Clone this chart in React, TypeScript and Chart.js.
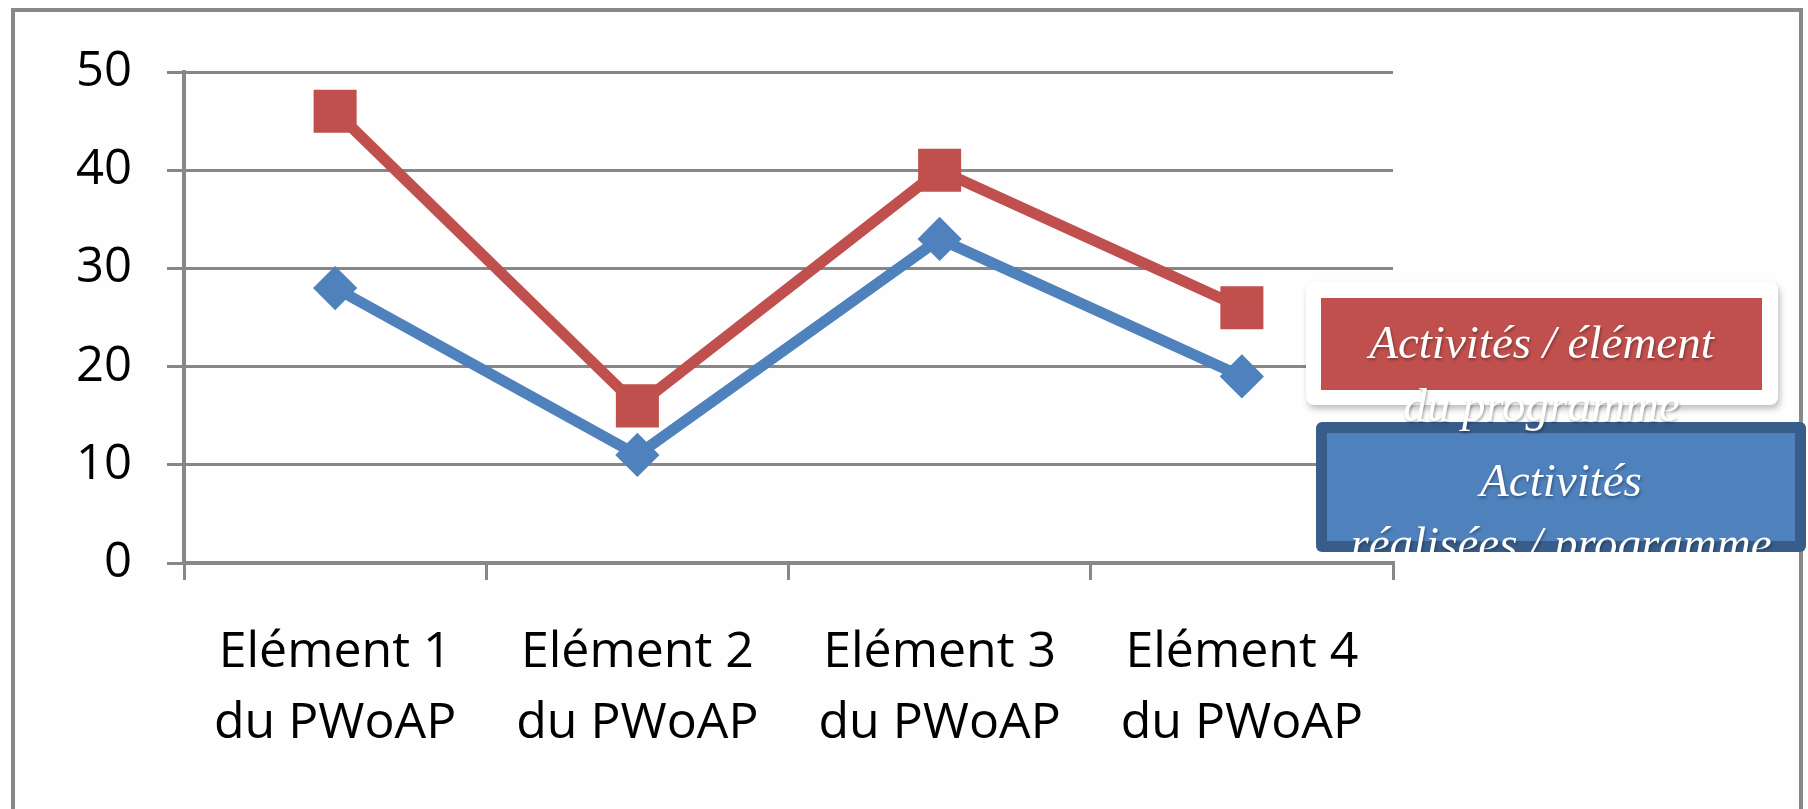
import React, { useEffect, useRef } from "react";
import { Chart, registerables } from "chart.js";

Chart.register(...registerables);

// ---- Data ----
const categories: string[][] = [
  ["Elément 1", "du PWoAP"],
  ["Elément 2", "du PWoAP"],
  ["Elément 3", "du PWoAP"],
  ["Elément 4", "du PWoAP"],
];
const activitesElement: number[] = [46, 16, 40, 26];
const activitesRealisees: number[] = [28, 11, 33, 19];
const yTickValues: number[] = [0, 10, 20, 30, 40, 50];
const legendRed: string[] = ["Activités / élément", "du programme"];
const legendBlue: string[] = ["Activités", "réalisées / programme"];

const RED = "#C0504D";
const BLUE = "#4F81BD";
const BLUE_DARK = "#385D8A";
const GRID = "#878787";

const W = 1808;
const H = 809;

export default function App() {
  const canvasRef = useRef<HTMLCanvasElement | null>(null);

  useEffect(() => {
    const canvas = canvasRef.current;
    if (!canvas) return;
    const chart = new Chart(canvas, {
      type: "line",
      data: {
        labels: categories as any,
        datasets: [
          {
            label: legendRed.join(" "),
            data: activitesElement,
            borderColor: RED,
            backgroundColor: RED,
            borderWidth: 11,
            tension: 0,
            pointStyle: "rect",
            pointRadius: 29,
            pointHoverRadius: 29,
            pointBorderWidth: 2,
            pointBackgroundColor: RED,
            pointBorderColor: RED,
            borderJoinStyle: "round",
            clip: false as any,
          },
          {
            label: legendBlue.join(" "),
            data: activitesRealisees,
            borderColor: BLUE,
            backgroundColor: BLUE,
            borderWidth: 11,
            tension: 0,
            pointStyle: "rectRot",
            pointRadius: 20,
            pointHoverRadius: 20,
            pointBorderWidth: 3,
            pointBackgroundColor: BLUE,
            pointBorderColor: BLUE,
            borderJoinStyle: "round",
            clip: false as any,
          },
        ],
      },
      options: {
        responsive: false,
        animation: false,
        events: [],
        layout: { padding: { left: 0, top: 72, right: W - 1393, bottom: 0 } },
        plugins: {
          legend: { display: false },
          tooltip: { enabled: false },
          title: { display: false },
        },
        scales: {
          x: {
            type: "category",
            offset: true,
            grid: {
              display: true,
              drawOnChartArea: false,
              drawTicks: true,
              tickLength: 17,
              color: GRID,
              lineWidth: 3,
              offset: true,
            },
            border: { display: true, color: GRID, width: 4 },
            ticks: {
              color: "#000",
              font: { family: "Open Sans", size: 50, lineHeight: 1.42 },
              padding: 37,
              maxRotation: 0,
              minRotation: 0,
              autoSkip: false,
            },
            afterFit: (s: any) => {
              s.height = H - 563;
            },
          },
          y: {
            min: 0,
            max: 50,
            afterBuildTicks: (s: any) => {
              s.ticks = yTickValues.map((v) => ({ value: v }));
            },
            ticks: {
              color: "#000",
              font: { family: "Open Sans", size: 49 },
              padding: 35,
            },
            grid: {
              color: GRID,
              lineWidth: 3,
              tickLength: 17,
            },
            border: { display: true, color: GRID, width: 4 },
            afterFit: (s: any) => {
              s.width = 184;
            },
          },
        },
      },
    });
    return () => chart.destroy();
  }, []);

  const legendFont: React.CSSProperties = {
    fontFamily: '"Liberation Serif", "DejaVu Serif", serif',
    fontStyle: "italic",
    fontSize: 47,
    lineHeight: "63px",
    color: "#fff",
    textAlign: "center",
    whiteSpace: "nowrap",
    textShadow: "1px 2px 3px rgba(0,0,0,0.35)",
  };

  return (
    <div
      style={{
        position: "fixed",
        left: 0,
        top: 0,
        width: W,
        height: H,
        overflow: "hidden",
        background: "#fefefe",
      }}
    >
      {/* outer frame */}
      <div
        style={{
          position: "absolute",
          left: 11,
          top: 8,
          width: 1803 - 11,
          height: 900,
          border: "4px solid #888",
          boxSizing: "border-box",
        }}
      />
      <canvas
        ref={canvasRef}
        width={W}
        height={H}
        style={{ position: "absolute", left: 0, top: 0, width: W, height: H }}
      />
      {/* blue legend entry */}
      <div
        style={{
          position: "absolute",
          left: 1316,
          top: 422,
          width: 490,
          height: 130,
          background: BLUE_DARK,
          borderRadius: 6,
          overflow: "hidden",
        }}
      >
        <div
          style={{
            position: "absolute",
            left: 11,
            top: 11,
            right: 11,
            bottom: 11,
            background: BLUE,
          }}
        />
        <div
          style={{
            ...legendFont,
            position: "absolute",
            left: 0,
            width: "100%",
            top: 27,
          }}
        >
          {legendBlue.map((t, i) => (
            <div key={i}>{t}</div>
          ))}
        </div>
      </div>
      {/* red legend entry (card) */}
      <div
        style={{
          position: "absolute",
          left: 1306,
          top: 282,
          width: 472,
          height: 123,
          background: "#fff",
          borderRadius: 8,
          boxShadow: "2px 4px 6px rgba(0,0,0,0.25)",
        }}
      />
      <div
        style={{
          position: "absolute",
          left: 1321,
          top: 298,
          width: 441,
          height: 92,
          background: RED,
        }}
      />
      <div
        style={{
          ...legendFont,
          position: "absolute",
          left: 1321,
          width: 441,
          top: 311,
        }}
      >
        {legendRed.map((t, i) => (
          <div key={i}>{t}</div>
        ))}
      </div>
    </div>
  );
}
